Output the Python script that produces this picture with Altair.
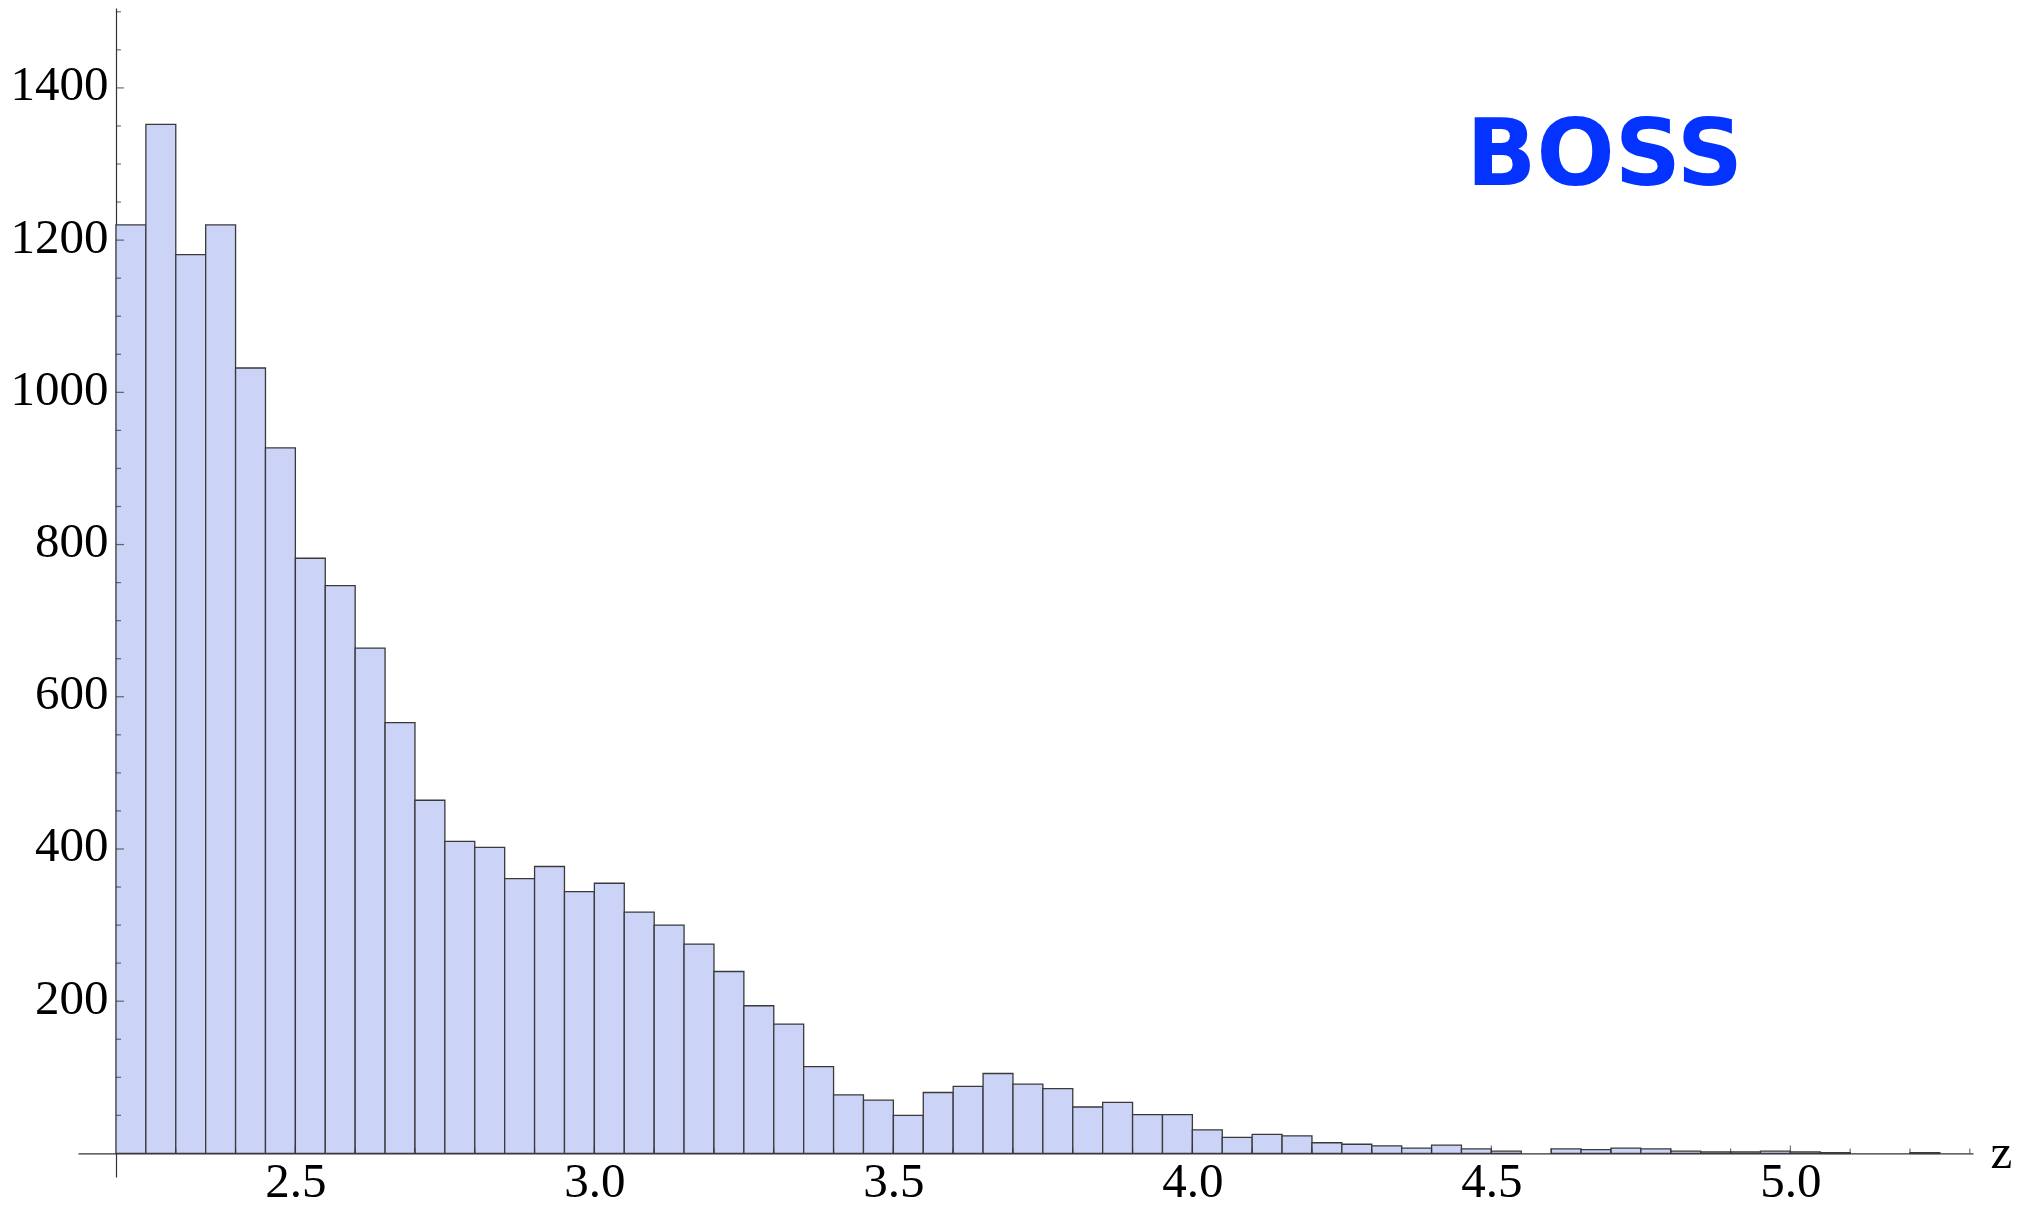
import altair as alt
import pandas as pd
import numpy as np

# ---- data ----
bin_width = 0.05
bin_first = 2.2
counts = [1220, 1352, 1181, 1220, 1032, 927, 782, 746, 664, 566,
          464, 410, 402, 361, 377, 344, 355, 317, 300, 275,
          239, 194, 170, 114, 77, 70, 50, 80, 88, 105,
          91, 85, 61, 67, 51, 51, 31, 21, 25, 23,
          14, 12, 10, 7, 11, 6, 3, 0, 6, 5,
          7, 6, 3, 2, 2, 3, 2, 1, 0, 0, 1]

x_major = [2.5, 3.0, 3.5, 4.0, 4.5, 5.0]
x_minor = [2.3, 2.4, 2.6, 2.7, 2.8, 2.9, 3.1, 3.2, 3.3, 3.4, 3.6, 3.7, 3.8, 3.9,
           4.1, 4.2, 4.3, 4.4, 4.6, 4.7, 4.8, 4.9, 5.1, 5.2, 5.3]
y_major = [200, 400, 600, 800, 1000, 1200, 1400]
y_minor = [50, 100, 150, 250, 300, 350, 450, 500, 550, 650, 700, 750, 850, 900, 950,
           1050, 1100, 1150, 1250, 1300, 1350, 1450, 1500]

x_domain = [2.1365, 5.3054]
y_domain = [-31, 1505]

label_text = "BOSS"
label_pos = (4.6895, 1272)
axis_label = "z"
axis_label_pos = (5.353, 0)

# ---- tables ----
starts = [round(bin_first + i * bin_width, 2) for i in range(len(counts))]
bars = pd.DataFrame({
    "start": starts,
    "end": [round(s + bin_width, 2) for s in starts],
    "count": counts,
    "zero": [0] * len(counts),
})
bars = bars[bars["count"] > 0]

xs = alt.Scale(domain=x_domain, zero=False, nice=False)
ys = alt.Scale(domain=y_domain, zero=False, nice=False)

FONT = "Liberation Serif"
AX = "#333333"

x_axis = alt.Axis(values=x_major, format=".1f", title=None, grid=False, ticks=False,
                  tickSize=0, labelPadding=4, offset=-23.6, domainColor=AX,
                  domainWidth=1.2, labelFont=FONT, labelFontSize=49, labelColor="black")
y_axis = alt.Axis(values=y_major, format="d", title=None, grid=False, ticks=False,
                  tickSize=0, labelPadding=8, offset=-38, domainColor=AX,
                  domainWidth=1.2, labelFont=FONT, labelFontSize=49, labelColor="black",
                  labelOffset=-3)

bar_layer = alt.Chart(bars).mark_rect(
    fill="#cbd3f6", stroke="#3a3a3a", strokeWidth=1.3
).encode(
    x=alt.X("start:Q", scale=xs, axis=x_axis),
    x2="end:Q",
    y=alt.Y("count:Q", scale=ys, axis=y_axis),
    y2="zero:Q",
)

def yticks(vals, size):
    return alt.Chart(pd.DataFrame({"v": vals})).mark_tick(
        orient="horizontal", size=size, thickness=1.2, xOffset=size / 2, color=AX
    ).encode(
        x=alt.datum(bin_first, scale=xs, axis=x_axis),
        y=alt.Y("v:Q", scale=ys, axis=y_axis),
    )

def xticks(vals, size):
    return alt.Chart(pd.DataFrame({"v": vals})).mark_tick(
        orient="vertical", size=size, thickness=1.2, yOffset=-size / 2, color=AX
    ).encode(
        x=alt.X("v:Q", scale=xs, axis=x_axis),
        y=alt.datum(0, scale=ys, axis=y_axis),
    )

boss = alt.Chart(pd.DataFrame({"t": [label_text]})).mark_text(
    font="DejaVu Sans", fontWeight="bold", fontSize=92, color="#0433ff",
    align="center", baseline="alphabetic"
).encode(
    x=alt.datum(label_pos[0], scale=xs, axis=x_axis),
    y=alt.datum(label_pos[1], scale=ys, axis=y_axis),
    text="t:N",
)

zlab = alt.Chart(pd.DataFrame({"t": [axis_label]})).mark_text(
    font=FONT, fontSize=49, color="black", align="center", baseline="middle"
).encode(
    x=alt.datum(axis_label_pos[0], scale=xs, axis=x_axis),
    y=alt.datum(axis_label_pos[1], scale=ys, axis=y_axis),
    text="t:N",
)

chart = alt.layer(
    bar_layer,
    yticks(y_major, 8), yticks(y_minor, 5),
    xticks(x_major, 8), xticks(x_minor, 5),
    boss, zlab,
).properties(
    width=1895, height=1169,
    padding={"left": 70, "top": 0, "right": 45, "bottom": 40},
    autosize=alt.AutoSizeParams(type="none"),
    background="white",
).configure_view(strokeWidth=0, stroke=None)

chart.save("out.html", embed_options={"renderer": "svg", "actions": False})
